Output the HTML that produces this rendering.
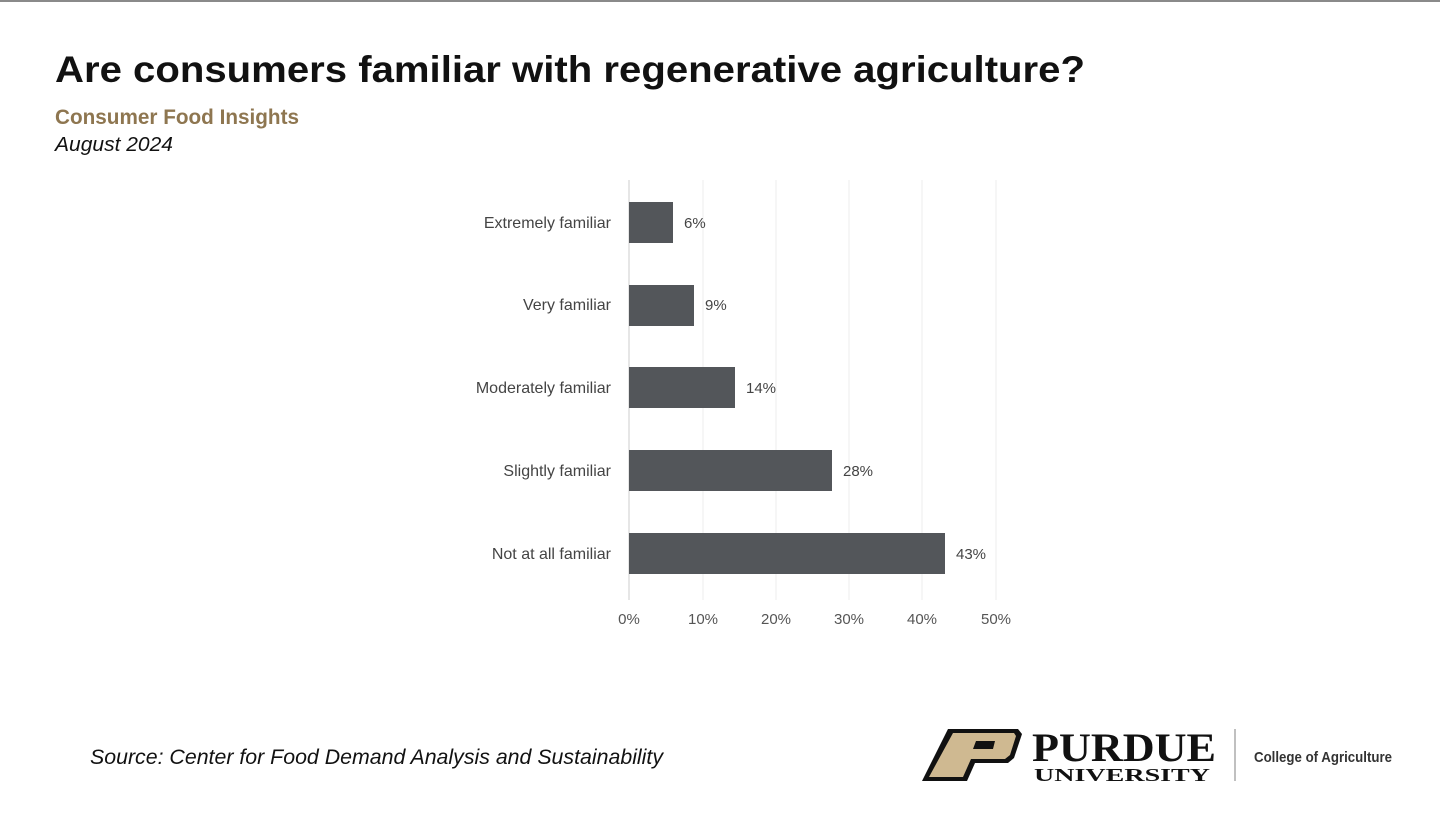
<!DOCTYPE html>
<html><head><meta charset="utf-8"><style>
html,body{margin:0;padding:0;background:#fff;}
</style></head><body>
<svg width="1440" height="822" xmlns="http://www.w3.org/2000/svg" font-family="Liberation Sans, sans-serif">
<rect width="1440" height="822" fill="#fff"/>
<rect x="0" y="0" width="1440" height="2" fill="#8a8a8a"/>
<text x="55" y="82" font-size="37" font-weight="bold" fill="#111" textLength="1030" lengthAdjust="spacingAndGlyphs">Are consumers familiar with regenerative agriculture?</text>
<text x="55" y="124" font-size="21" font-weight="bold" fill="#8e7650" textLength="244" lengthAdjust="spacingAndGlyphs">Consumer Food Insights</text>
<text x="55" y="151" font-size="20" font-style="italic" fill="#111" textLength="118" lengthAdjust="spacingAndGlyphs">August 2024</text>
<g stroke="#ececec" stroke-width="1">
<line x1="703" y1="180" x2="703" y2="600"/><line x1="776" y1="180" x2="776" y2="600"/><line x1="849" y1="180" x2="849" y2="600"/><line x1="922" y1="180" x2="922" y2="600"/><line x1="996" y1="180" x2="996" y2="600"/>
</g>
<line x1="629" y1="180" x2="629" y2="600" stroke="#ddd" stroke-width="1.5"/>
<g fill="#53565a">
<rect x="629" y="202" width="44" height="41"/>
<rect x="629" y="285" width="65" height="41"/>
<rect x="629" y="367" width="106" height="41"/>
<rect x="629" y="450" width="203" height="41"/>
<rect x="629" y="533" width="316" height="41"/>
</g>
<g font-size="16" fill="#444" text-anchor="end">
<text x="611" y="228">Extremely familiar</text>
<text x="611" y="310">Very familiar</text>
<text x="611" y="393">Moderately familiar</text>
<text x="611" y="476">Slightly familiar</text>
<text x="611" y="559">Not at all familiar</text>
</g>
<g font-size="15" fill="#444">
<text x="684" y="228">6%</text>
<text x="705" y="310">9%</text>
<text x="746" y="393">14%</text>
<text x="843" y="476">28%</text>
<text x="956" y="559">43%</text>
</g>
<g font-size="15" fill="#555" text-anchor="middle">
<text x="629" y="624">0%</text><text x="703" y="624">10%</text><text x="776" y="624">20%</text><text x="849" y="624">30%</text><text x="922" y="624">40%</text><text x="996" y="624">50%</text>
</g>
<text x="90" y="764" font-size="21" font-style="italic" fill="#111" textLength="573" lengthAdjust="spacingAndGlyphs">Source:  Center for Food Demand Analysis and Sustainability</text>
<polygon points="948,729 1018,729 1022,734 1014,758 1008,763 975,763 967,781 922,781" fill="#111"/>
<polygon points="953,733 1014,733 1016,736 1010,755 1005,759 971,759 963,777 929,777" fill="#cfb991"/>
<polygon points="976,741 995,741 993,749 973,749" fill="#111"/>
<text x="1032" y="761" font-family="Liberation Serif, serif" font-size="40" font-weight="bold" fill="#111" textLength="184" lengthAdjust="spacingAndGlyphs">PURDUE</text>
<text x="1034" y="781" font-family="Liberation Serif, serif" font-size="18" font-weight="bold" fill="#111" textLength="176" lengthAdjust="spacingAndGlyphs">UNIVERSITY</text>
<line x1="1235" y1="729" x2="1235" y2="781" stroke="#aaa" stroke-width="1.5"/>
<text x="1254" y="762" font-size="15" font-weight="bold" fill="#333" textLength="138" lengthAdjust="spacingAndGlyphs">College of Agriculture</text>
</svg>
</body></html>
